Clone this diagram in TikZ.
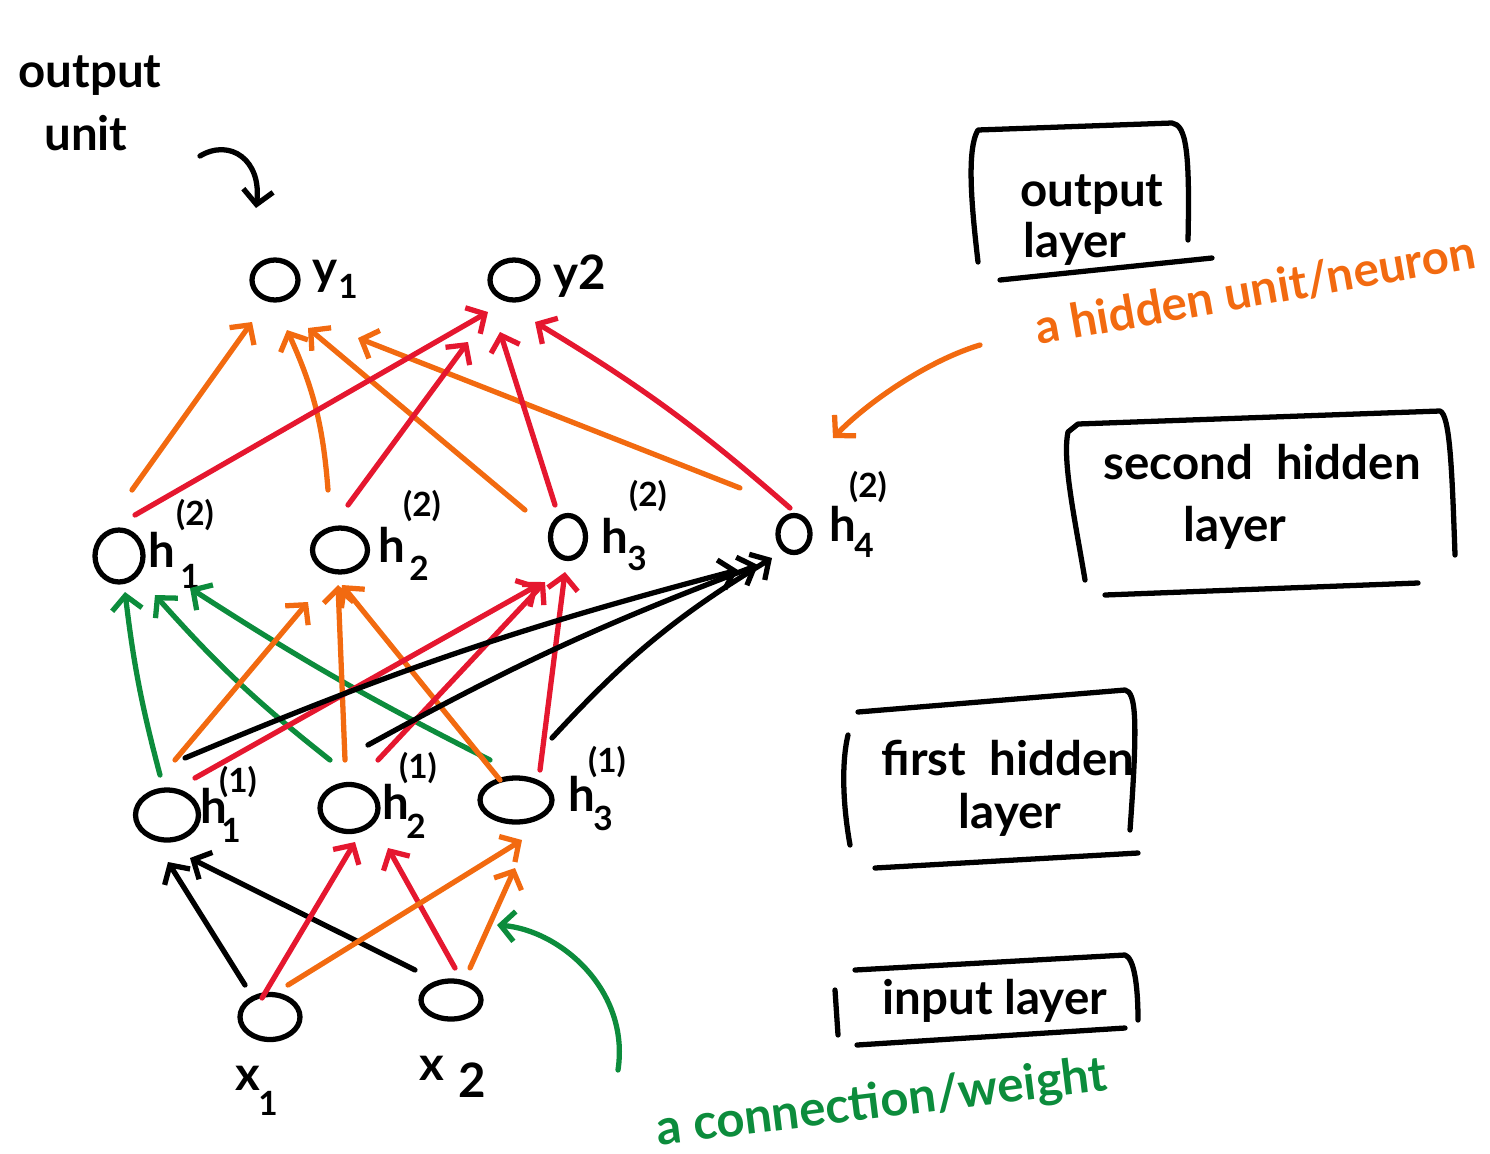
\documentclass[tikz,border=0pt]{standalone}
\usepackage{fontspec}
\setmainfont{Lato}
\usetikzlibrary{arrows.meta,shapes.geometric}
\definecolor{hor}{HTML}{F26A10}
\definecolor{hred}{HTML}{E5172F}
\definecolor{hgreen}{HTML}{0C8C3C}
\newcommand\lnk[8][]{\draw[#2,#1] ([shift={(#4,#5)}]#3.center) to ([shift={(#7,#8)}]#6.center);}
\begin{document}
\begin{tikzpicture}[x=0.02cm,y=-0.02cm,line cap=round,line join=round,
  ink/.style={line width=3pt},
  tip/.style={-{Straight Barb[length=2.8mm,width=6mm]}},
  unitnode/.style={draw,ellipse,ink,inner sep=0pt},
  hw/.style={font=\bfseries\fontsize{27}{29}\selectfont,inner sep=0pt},
  hws/.style={font=\bfseries\fontsize{19}{21}\selectfont,inner sep=0pt},
  blk/.style={ink,tip,black},
  org/.style={ink,tip,hor},
  rd/.style={ink,tip,hred},
  grn/.style={ink,tip,hgreen}]
\useasboundingbox (0,0) rectangle (1490,1153);
% units
\node[unitnode,minimum width=1.2cm,minimum height=0.9cm] (x1) at (270,1017) {};
\node[unitnode,minimum width=1.2cm,minimum height=0.76cm] (x2) at (451,1000) {};
\node[unitnode,minimum width=1.26cm,minimum height=1.0cm] (a1) at (167,815) {};
\node[unitnode,minimum width=1.16cm,minimum height=0.94cm] (a2) at (349,808) {};
\node[unitnode,minimum width=1.44cm,minimum height=0.88cm] (a3) at (516,800) {};
\node[unitnode,minimum width=0.96cm,minimum height=1.04cm] (b1) at (119,556) {};
\node[unitnode,minimum width=1.1cm,minimum height=0.88cm] (b2) at (340,550) {};
\node[unitnode,minimum width=0.7cm,minimum height=0.86cm] (b3) at (568,537) {};
\node[unitnode,minimum width=0.64cm,minimum height=0.74cm] (b4) at (794,534) {};
\node[unitnode,minimum width=0.92cm,minimum height=0.8cm] (y1) at (275,280) {};
\node[unitnode,minimum width=0.96cm,minimum height=0.8cm] (y2) at (514,280) {};
% unit labels
\node[hw] (lx1) at (248,1078) {x};
\node[hws] (lx1s) at (268,1103) {1};
\node[hw] (lx2) at (432,1068) {x};
\node[hw] (lx2s) at (472,1080) {2};
\node[hw] (ly1) at (325,276) {y};
\node[hws] (ly1s) at (348,286) {1};
\node[hw] (ly2) at (580,276) {y2};
\node[hw] (la1) at (214,806) {h};
\node[hws] (la1s) at (231,830) {1};
\node[hws] (la1p) at (238,782) {(1)};
\node[hw] (la2) at (396,802) {h};
\node[hws] (la2s) at (416,826) {2};
\node[hws] (la2p) at (418,768) {(1)};
\node[hw] (la3) at (582,794) {h};
\node[hws] (la3s) at (603,818) {3};
\node[hws] (la3p) at (607,762) {(1)};
\node[hw] (lb1) at (162,550) {h};
\node[hws] (lb1s) at (190,576) {1};
\node[hws] (lb1p) at (195,515) {(2)};
\node[hw] (lb2) at (392,545) {h};
\node[hws] (lb2s) at (419,568) {2};
\node[hws] (lb2p) at (422,506) {(2)};
\node[hw] (lb3) at (615,536) {h};
\node[hws] (lb3s) at (637,558) {3};
\node[hws] (lb3p) at (648,496) {(2)};
\node[hw] (lb4) at (843,524) {h};
\node[hws] (lb4s) at (864,545) {4};
\node[hws] (lb4p) at (868,487) {(2)};
% input -> first hidden
\lnk{blk}{x1}{-25}{-32}{a1}{1}{47}
\lnk{blk}{x2}{-36}{-30}{a1}{23}{43}
\lnk{rd}{x1}{-8}{-19}{a2}{6}{34}
\lnk{rd}{x2}{4}{-32}{a2}{39}{40}
\lnk{org}{x1}{18}{-32}{a3}{6}{40}
\lnk{org}{x2}{19}{-32}{a3}{-1}{68}
% first -> second hidden
\lnk[bend left=4]{grn}{a1}{-7}{-40}{b1}{6}{36}
\lnk[bend left=5]{grn}{a2}{-19}{-48}{b1}{36}{39}
\lnk[bend left=3]{grn}{a3}{-26}{-40}{b1}{71}{32}
\lnk{org}{a1}{8}{-55}{b2}{-32}{52}
\lnk{org}{a2}{-4}{-48}{b2}{-2}{35}
\lnk{org}{a3}{-16}{-20}{b2}{2}{35}
\lnk{rd}{a1}{28}{-37}{b3}{-30}{48}
\lnk{rd}{a2}{29}{-48}{b3}{-23}{45}
\lnk{rd}{a3}{24}{-30}{b3}{-3}{35}
\lnk[bend left=4]{blk}{a1}{18}{-57}{b4}{-56}{36}
\lnk[bend left=4]{blk}{a2}{19}{-63}{b4}{-36}{31}
\lnk[bend left=8]{blk}{a3}{36}{-62}{b4}{-22}{24}
% second hidden -> output
\lnk{org}{b1}{13}{-66}{y1}{-23}{42}
\lnk[bend right=10]{org}{b2}{-12}{-60}{y1}{12}{50}
\lnk{org}{b3}{-43}{-27}{y1}{33}{48}
\lnk{org}{b4}{-54}{-46}{y1}{83}{58}
\lnk{rd}{b1}{16}{-41}{y2}{-26}{32}
\lnk{rd}{b2}{8}{-45}{y2}{-46}{62}
\lnk{rd}{b3}{-13}{-32}{y2}{-14}{52}
\lnk[bend right=5]{rd}{b4}{-4}{-26}{y2}{21}{42}
% output unit annotation
\node[hw] (tout) at (90,76) {output};
\node[hw] (tunit) at (86,133) {unit};
\coordinate (ou1) at (200,156);
\coordinate (ou2) at (256,208);
\draw[blk] (ou1) .. controls (230,138) and (262,160) .. (ou2);
% layer boxes
\draw[ink] (978,262) .. controls (972,210) and (966,150) .. (978,130) -- (1172,123) .. controls (1186,125) and (1190,150) .. (1188,240);
\draw[ink] (1000,280) -- (1212,258);
\node[hw] (tol1) at (1092,195) {output};
\node[hw] (tol2) at (1075,244) {layer};
\draw[ink] (1085,580) .. controls (1075,520) and (1062,460) .. (1068,432) -- (1078,424) -- (1440,411) .. controls (1450,415) and (1452,470) .. (1455,555);
\draw[ink] (1105,595) -- (1418,583);
\node[hw] (tsh1) at (1262,462) {second \ hidden};
\node[hw] (tsh2) at (1235,528) {layer};
\draw[ink] (850,845) .. controls (842,800) and (842,760) .. (848,735);
\draw[ink] (858,712) -- (1125,690) .. controls (1136,692) and (1138,720) .. (1130,830);
\draw[ink] (875,868) -- (1138,853);
\node[hw] (tfh1) at (1008,758) {first \ hidden};
\node[hw] (tfh2) at (1010,815) {layer};
\draw[ink] (835,990) -- (838,1035);
\draw[ink] (855,970) -- (1125,955) .. controls (1134,958) and (1138,985) .. (1138,1020);
\draw[ink] (857,1045) -- (1125,1028);
\node[hw] (til) at (995,1001) {input layer};
% annotations
\node[hw,text=hor,rotate=10] (thu) at (1255,290) {a hidden unit/neuron};
\coordinate (hu1) at (980,345);
\coordinate (hu2) at (833,438);
\draw[org] (hu1) .. controls (930,360) and (870,400) .. (hu2);
\node[hw,text=hgreen,font=\bfseries\fontsize{28}{30}\selectfont,rotate=7] (tcw) at (882,1104) {a connection/weight};
\coordinate (cw1) at (618,1070);
\coordinate (cw2) at (497,925);
\draw[grn] (cw1) .. controls (630,990) and (560,930) .. (cw2);
\end{tikzpicture}
\end{document}
